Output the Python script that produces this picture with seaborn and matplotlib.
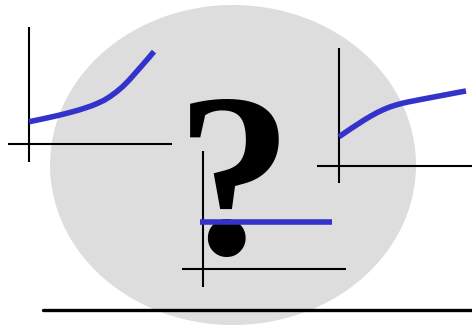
import numpy as np
import pandas as pd
import matplotlib
matplotlib.use('Agg')
import matplotlib.pyplot as plt
from matplotlib.patches import Ellipse
import seaborn as sns

sns.set_theme(style='white')

# figure size in pixels
W, H = 472, 328
BLUE = '#3333cc'
GRAY = '#dddddd'

# left sketch: rising curve (exponential-ish)
left_x = [0, 0.5, 1, 1.5, 2, 2.5, 3, 3.5, 4, 4.5, 5,
          5.5, 6, 6.5, 7, 7.5, 8, 8.5, 9, 9.5, 10]
left_y = [2.42, 2.56, 2.7, 2.85, 3.0, 3.16, 3.33, 3.51, 3.7, 3.92, 4.15,
          4.43, 4.75, 5.17, 5.67, 6.25, 6.93, 7.7, 8.47, 9.25, 10.05]

# right sketch: saturating curve
right_x = [0, 0.5, 1, 1.5, 2, 2.5, 3, 3.5, 4, 4.5, 5,
           5.5, 6, 6.5, 7, 7.5, 8, 8.5, 9, 9.5, 10]
right_y = [3.9, 4.48, 5.05, 5.6, 6.15, 6.65, 7.12, 7.52, 7.87, 8.14, 8.37,
           8.56, 8.72, 8.89, 9.05, 9.21, 9.37, 9.53, 9.69, 9.85, 10.0]

# middle sketch: flat line
mid_x = [-0.25, 10]
mid_y = [5, 5]

fig = plt.figure(figsize=(W / 100, H / 100), dpi=100)

# background: grey ellipse, question mark, base line
bg = fig.add_axes([0, 0, 1, 1])
bg.set_xlim(0, W)
bg.set_ylim(H, 0)
bg.axis('off')
bg.add_patch(Ellipse((233, 165), 366, 320, color=GRAY, lw=0))
bg.text(234, 254, '?', fontsize=168, fontweight='bold', family='Liberation Serif',
        ha='center', va='baseline', color='black')
bg.axhline(310, xmin=43 / W, xmax=1, color='black', lw=2.4)


def sketch(box, origin, scale, xs, ys):
    # box = (x0, y0, x1, y1) in pixels, origin in pixels, scale = px per unit
    x0, y0, x1, y1 = box
    ox, oy = origin
    sx, sy = scale
    ax = fig.add_axes([x0 / W, 1 - y1 / H, (x1 - x0) / W, (y1 - y0) / H])
    ax.set_xlim((x0 - ox) / sx, (x1 - ox) / sx)
    ax.set_ylim((oy - y1) / sy, (oy - y0) / sy)
    ax.patch.set_alpha(0)
    ax.axis('off')
    ax.axhline(0, color='black', lw=1.5)
    ax.axvline(0, color='black', lw=1.5)
    df = pd.DataFrame({'x': xs, 'y': ys})
    sns.lineplot(data=df, x='x', y='y', ax=ax, color=BLUE, lw=4,
                 solid_capstyle='butt')
    return ax


sketch((8, 27, 172, 162), (29, 144), (12.5, 9.2), left_x, left_y)
sketch((317, 48, 475, 183), (339, 166), (12.7, 7.5), right_x, right_y)
sketch((182, 151, 346, 287), (203, 269), (12.9, 9.4), mid_x, mid_y)

fig.savefig('out.png', dpi=100)
